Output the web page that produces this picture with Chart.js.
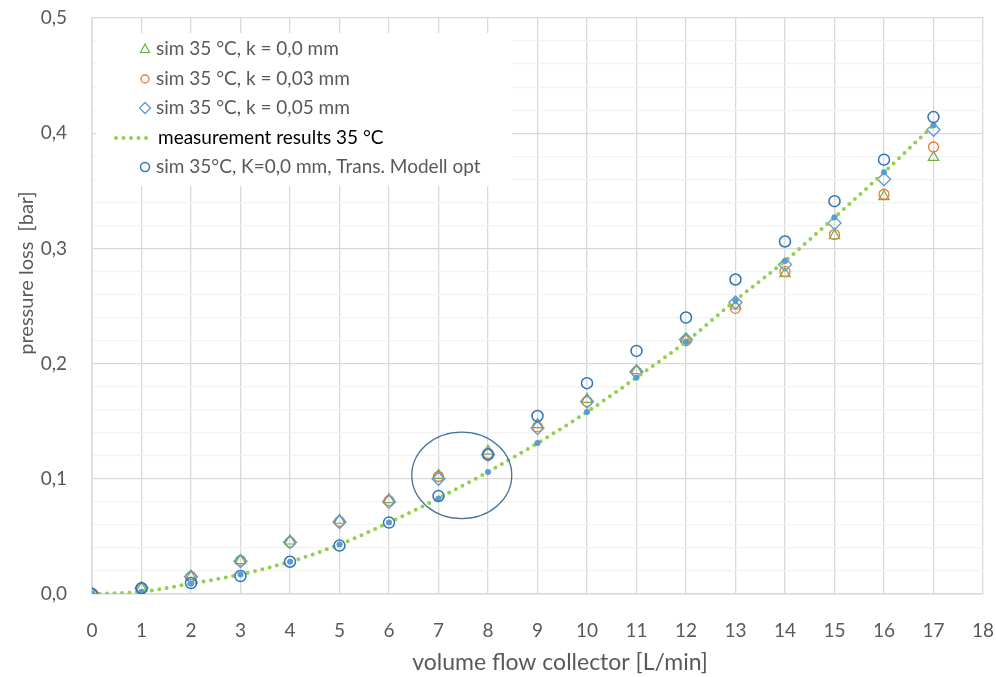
<!DOCTYPE html>
<html>
<head>
<meta charset="utf-8">
<script src="https://cdn.jsdelivr.net/npm/chart.js@4.4.1/dist/chart.umd.min.js"></script>
<style>
  html, body { margin: 0; padding: 0; background: #fff; }
  #wrap { width: 996px; height: 677px; position: relative; }
</style>
</head>
<body>
<div id="wrap"><canvas id="chart"></canvas></div>
<script>
// volume flow [L/min]
const flow = [0, 1, 2, 3, 4, 5, 6, 7, 8, 9, 10, 11, 12, 13, 14, 15, 16, 17];

// pressure loss [bar]
const simK00 = [0, 0.005, 0.015, 0.029, 0.046, 0.064, 0.082, 0.103, 0.124, 0.147, 0.169, 0.194, 0.221, 0.250, 0.278, 0.311, 0.345, 0.379];
const simK003 = [0, 0.005, 0.015, 0.029, 0.045, 0.063, 0.081, 0.102, 0.122, 0.145, 0.167, 0.193, 0.220, 0.248, 0.280, 0.312, 0.347, 0.388];
const simK005 = [0, 0.005, 0.015, 0.0285, 0.045, 0.0625, 0.080, 0.100, 0.121, 0.144, 0.167, 0.193, 0.221, 0.253, 0.286, 0.322, 0.360, 0.403];
const measured = [0, 0.002, 0.009, 0.017, 0.028, 0.043, 0.062, 0.083, 0.106, 0.131, 0.158, 0.188, 0.219, 0.255, 0.289, 0.327, 0.366, 0.407];
const simTransOpt = [0, 0.005, 0.0095, 0.0156, 0.028, 0.042, 0.062, 0.085, 0.121, 0.1545, 0.183, 0.211, 0.240, 0.273, 0.306, 0.341, 0.377, 0.414];

const seriesNames = [
  "sim 35 °C, k = 0,0 mm",
  "sim 35 °C, k = 0,03 mm",
  "sim 35 °C, k = 0,05 mm",
  "measurement results 35 °C",
  "sim 35°C, K=0,0 mm, Trans. Modell opt"
];

const FONT = "Lato, 'Open Sans', sans-serif";
const GRAY = "#595959";

function pts(ys) {
  return ys.map((y, i) => ({ x: flow[i], y: y }));
}

// legend inside the plot
const legendBox = {
  id: "legendBox",
  beforeDatasetsDraw(chart) {
    const c = chart.ctx;
    c.save();
    c.fillStyle = "#fff";
    c.fillRect(96, 33, 416, 153);
    const ys = [49, 79, 108, 138, 167];
    c.textBaseline = "middle";
    chart.data.datasets.forEach((ds, i) => {
      const y = ys[i];
      if (ds.legendLine) {
        c.strokeStyle = ds.borderColor;
        c.lineWidth = 4;
        c.lineCap = "round";
        c.setLineDash([0, 7.5]);
        c.beginPath();
        c.moveTo(116, y);
        c.lineTo(150, y);
        c.stroke();
        c.setLineDash([]);
        c.fillStyle = "#000";
        c.font = "19px " + FONT;
        c.fillText(ds.label, 158, y);
      } else {
        const r = ds.pointRadius - 1;
        c.strokeStyle = ds.pointBorderColor;
        c.lineWidth = ds.pointBorderWidth;
        c.beginPath();
        if (ds.pointStyle === "circle") {
          c.arc(145, y, r, 0, Math.PI * 2);
        } else if (ds.pointStyle === "triangle") {
          c.moveTo(145, y - r);
          c.lineTo(145 + r * 0.9, y + r * 0.7);
          c.lineTo(145 - r * 0.9, y + r * 0.7);
          c.closePath();
        } else {
          c.moveTo(145, y - r);
          c.lineTo(145 + r, y);
          c.lineTo(145, y + r);
          c.lineTo(145 - r, y);
          c.closePath();
        }
        c.stroke();
        c.fillStyle = GRAY;
        c.font = "19px " + FONT;
        c.fillText(ds.label, 156, y);
      }
    });
    c.restore();
  }
};

// ellipse marking 7-8 L/min
const ellipseMark = {
  id: "ellipseMark",
  afterDatasetsDraw(chart) {
    const xs = chart.scales.x, ysc = chart.scales.y;
    const cx = xs.getPixelForValue(7.47);
    const cy = ysc.getPixelForValue(0.103);
    const rx = xs.getPixelForValue(8.48) - cx;
    const ry = cy - ysc.getPixelForValue(0.1405);
    const c = chart.ctx;
    c.save();
    c.strokeStyle = "#41719C";
    c.lineWidth = 1.3;
    c.beginPath();
    c.ellipse(cx, cy, rx, ry, 0, 0, Math.PI * 2);
    c.stroke();
    c.restore();
  }
};

// axis titles
const axisTitles = {
  id: "axisTitles",
  afterDraw(chart) {
    const c = chart.ctx;
    c.save();
    c.fillStyle = GRAY;
    c.textAlign = "center";
    c.textBaseline = "middle";
    c.font = "23px " + FONT;
    c.fillText("volume flow collector [L/min]", 560, 663);
    c.font = "20px " + FONT;
    c.translate(27, 273);
    c.rotate(-Math.PI / 2);
    c.fillText("pressure loss  [bar]", 0, 0);
    c.restore();
  }
};

const ctx = document.getElementById("chart");

new Chart(ctx, {
  type: "scatter",
  data: {
    datasets: [
      {
        label: seriesNames[0],
        data: pts(simK00),
        pointStyle: "triangle",
        pointRadius: 6,
        pointBorderWidth: 1.2,
        pointBorderColor: "#70AD47",
        pointBackgroundColor: "rgba(0,0,0,0)",
        borderColor: "#70AD47",
        showLine: false,
        order: 5
      },
      {
        label: seriesNames[1],
        data: pts(simK003),
        pointStyle: "circle",
        pointRadius: 5,
        pointBorderWidth: 1.3,
        pointBorderColor: "#ED7D31",
        pointBackgroundColor: "rgba(0,0,0,0)",
        borderColor: "#ED7D31",
        showLine: false,
        order: 4
      },
      {
        label: seriesNames[2],
        data: pts(simK005),
        pointStyle: "rectRot",
        pointRadius: 6.5,
        pointBorderWidth: 1.3,
        pointBorderColor: "#5B9BD5",
        pointBackgroundColor: "rgba(0,0,0,0)",
        borderColor: "#5B9BD5",
        showLine: false,
        order: 3
      },
      {
        label: seriesNames[3],
        data: pts(measured),
        legendLine: true,
        showLine: true,
        borderColor: "#92D050",
        borderWidth: 4,
        borderDash: [0, 7.5],
        borderCapStyle: "round",
        cubicInterpolationMode: "monotone",
        pointStyle: "circle",
        pointRadius: 3,
        pointBorderWidth: 0,
        pointBackgroundColor: "#5B9BD5",
        pointBorderColor: "#5B9BD5",
        order: 2
      },
      {
        label: seriesNames[4],
        data: pts(simTransOpt),
        pointStyle: "circle",
        pointRadius: 5.5,
        pointBorderWidth: 1.5,
        pointBorderColor: "#2E75B6",
        pointBackgroundColor: "rgba(0,0,0,0)",
        borderColor: "#2E75B6",
        showLine: false,
        order: 1
      }
    ]
  },
  options: {
    responsive: true,
    maintainAspectRatio: false,
    animation: false,
    layout: { padding: { top: 18, right: 13, left: 0, bottom: 0 } },
    plugins: {
      legend: { display: false },
      tooltip: { enabled: false }
    },
    scales: {
      x: {
        type: "linear",
        min: 0,
        max: 18,
        afterFit(s) {
          s.height = 83;
          s.paddingLeft = 0;
          s.paddingRight = 0;
        },
        ticks: {
          stepSize: 1,
          color: GRAY,
          font: { family: FONT, size: 19 },
          padding: 25
        },
        grid: { color: "#D9D9D9", lineWidth: 1.3, drawTicks: false },
        border: { color: "#D9D9D9", width: 1.5 }
      },
      y: {
        min: 0,
        max: 0.5,
        afterFit(s) {
          s.width = 92;
          s.paddingTop = 0;
          s.paddingBottom = 0;
        },
        ticks: {
          stepSize: 0.02,
          autoSkip: false,
          color: GRAY,
          font: { family: FONT, size: 19 },
          padding: 25,
          callback(v) {
            const n = Math.round(v * 50);
            return n % 5 === 0 ? (n / 50).toFixed(1).replace(".", ",") : "";
          }
        },
        grid: {
          drawTicks: false,
          color(c) {
            const n = Math.round(c.tick.value * 50);
            return n % 5 === 0 ? "#D9D9D9" : "#F2F2F2";
          },
          lineWidth(c) {
            const n = Math.round(c.tick.value * 50);
            return n % 5 === 0 ? 1.3 : 1.2;
          }
        },
        border: { color: "#D9D9D9", width: 1.5 }
      }
    }
  },
  plugins: [legendBox, ellipseMark, axisTitles]
});
</script>
</body>
</html>
